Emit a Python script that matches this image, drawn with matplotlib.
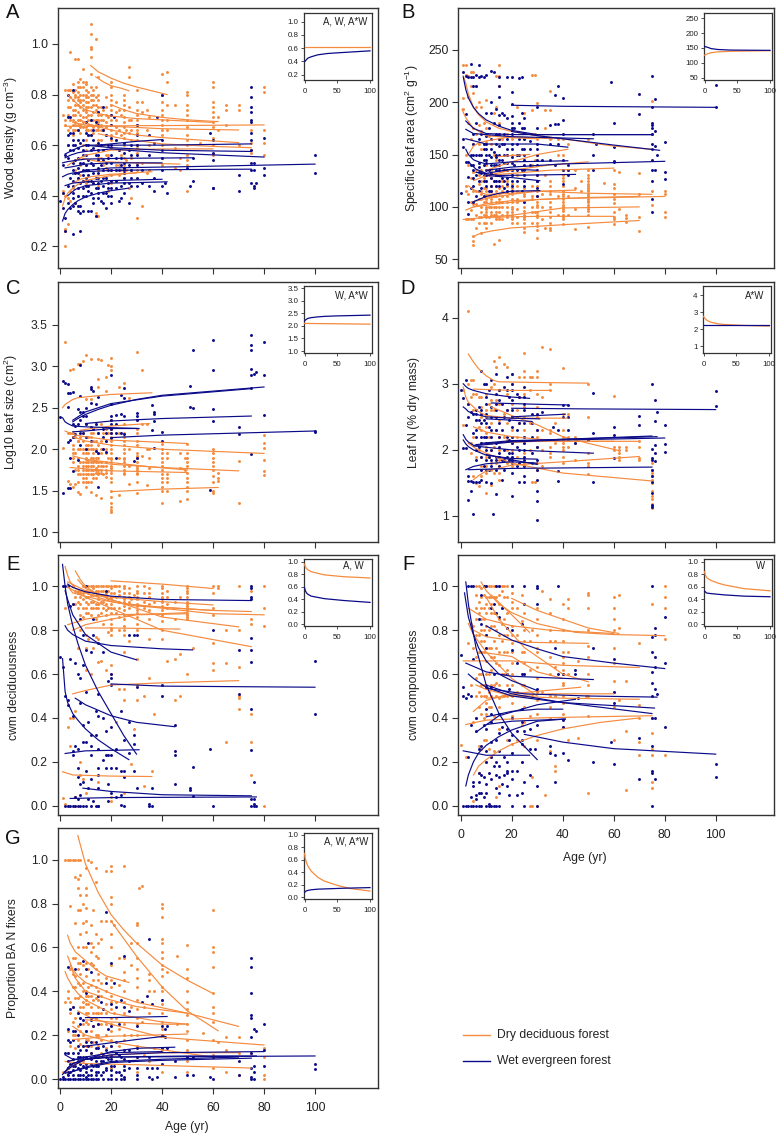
import matplotlib
matplotlib.use("Agg")
import matplotlib.pyplot as plt

plt.rcParams['font.family'] = ['Liberation Sans', 'DejaVu Sans']
W, H = 782, 1136
DRY = '#F58B3F'
WET = '#0B0B8A'
TXT = '#222222'

# ---------- scatter data: age -> values ----------
A_DRY = {1:[.42,.41,.72],2:[.27,.20,.26,.40,.82,.70,.68],3:[.82,.29,.39,.66,.72,.60,.78,.75],4:[.97,.82,.79,.75,.70,.67,.42,.38],
5:[.81,.78,.74,.68,.64,.43,.84,.72,.70,.66],6:[.94,.82,.80,.76,.72,.69,.66,.50,.37,.79,.74,.68],7:[.94,.85,.79,.76,.73,.70,.66,.47,.40,.83,.81,.78,.68],8:[.86,.83,.78,.75,.72,.68,.65,.52,.48,.80,.77,.70,.67],
9:[.90,.85,.80,.76,.71,.67,.60,.46,.83,.78,.74,.69],10:[.85,.84,.82,.79,.77,.74,.71,.69,.66,.62,.58,.52,.50,.45,.80,.75,.73,.67],11:[.81,.77,.72,.68,.64,.50,.79,.75,.70,.66],
12:[1.08,1.04,.99,.98,.95,.88,.83,.80,.75,.70,.66,.78,.72,.68,.64],13:[.80,.73,.67,.45,.82,.78,.76,.70,.65],14:[1.02,.83,.74,.66,.60,.33,.32,.79,.76,.70,.68],15:[.87,.80,.75,.72,.69,.66,.62,.55,.50,.44,.32,.78,.73,.70,.67],
16:[.75,.68,.55,.72,.70,.66,.62],17:[.74,.70,.66,.60,.52],18:[.79,.75,.67,.51,.72,.69,.64,.56,.47],19:[.71,.56,.42],20:[.85,.83,.80,.78,.76,.74,.72,.70,.68,.66,.64,.62,.59,.50,.48,.45],22:[.77,.73,.65,.52,.70,.67,.62,.50],
23:[.74,.66,.58,.52,.48],24:[.72,.64,.56,.50],25:[.80,.78,.76,.74,.71,.69,.67,.65,.63,.60,.55,.51,.47,.52,.50,.49],26:[.66,.54,.50],27:[.91,.87,.75,.70,.65,.43],28:[.55,.39,.70,.66,.62,.50],30:[.82,.77,.74,.70,.68,.65,.62,.59,.50,.31,.72,.66,.60,.57,.53],
32:[.77,.73,.53,.36],34:[.74,.66,.49],35:[.71,.60,.50],40:[.88,.80,.77,.74,.72,.70,.68,.66,.64,.60,.55,.52],42:[.89,.85,.76,.70,.66],45:[.76,.59,.51],47:[.55,.50],
50:[.81,.80,.76,.74,.72,.70,.67,.64,.62,.60,.56,.54,.52,.42],55:[.61],60:[.85,.83,.77,.75,.73,.71,.69,.67,.63,.60,.56],62:[.71,.66],65:[.76,.74,.68],70:[.76,.74,.60],
75:[.66,.61,.58,.57],80:[.83,.81,.66,.61,.56]}
A_WET = {0:[.38],1:[.52,.41,.35],2:[.56,.31,.26],3:[.80,.71,.64,.60,.55,.44,.37],4:[.71,.65,.58,.47,.35],5:[.82,.65,.62,.58,.53,.46,.39,.36,.25,.60,.50,.44,.41],6:[.60,.54,.49,.37],
7:[.66,.59,.51,.47,.36,.34,.62,.55,.49,.43,.40],8:[.61,.53,.45,.36,.33,.26],9:[.62,.58,.53,.48,.43,.34,.56,.50,.46,.40],10:[.69,.65,.60,.56,.52,.50,.47,.44,.40],11:[.64,.54,.48,.42,.34,.60,.50,.46,.44],12:[.70,.64,.58,.53,.46,.41,.34],
13:[.66,.59,.49,.62,.52,.45,.39,.37],14:[.69,.56,.47,.43,.32],15:[.73,.68,.61,.58,.54,.49,.45,.41,.56,.51,.47,.43,.39],16:[.60,.52,.46,.38],17:[.75,.66,.50,.44,.58,.54,.47,.41,.37],18:[.64,.53,.47,.35,.41],19:[.60,.55,.50,.45,.43,.40],
20:[.72,.68,.63,.60,.56,.53,.50,.46,.43,.40,.37],21:[.71],22:[.62,.55,.50,.46,.43],23:[.58,.50,.38],24:[.55,.52,.44,.39],25:[.61,.57,.53,.49,.45,.41,.51,.50,.47],27:[.58,.52,.45,.37],28:[.60,.56,.50,.47,.44],30:[.68,.64,.60,.56,.52,.47,.44],
32:[.50,.45],35:[.64,.56,.44],37:[.61,.47,.42],38:[.71],40:[.80,.62,.58,.55,.50,.44],41:[.45],42:[.41],50:[.51],51:[.44],52:[.46,.55],59:[.65],60:[.62,.57,.54,.43,.43],
70:[.48,.42],75:[.83,.79,.75,.73,.70,.69,.65,.62,.58,.53,.50,.45],76:[.53,.50,.44,.43],77:[.45],80:[.63,.51,.48],100:[.56,.49]}

B_DRY = {1:[204,193,235],2:[235,226,150,120,115,88],3:[225,205,180,140,112,88],4:[229,215,165,128,105,88,97],5:[229,209,175,160,133,115,103,88,72,64,67],
6:[215,195,170,135,115,103,92,80],7:[200,178,160,130,122,108,90,85],8:[195,172,155,135,112,100,90,75,125,115,108,95],9:[180,160,128,118,105,92,85],10:[202,175,162,140,130,118,110,105,98,92,85,80,125,115,108,100,95,90],
11:[168,130,110,100,90],12:[160,135,120,110,105,95,85,128,115,108,100,92],13:[190,150,125,110,100,92,65],14:[225,195,145,120,105,92,90,130,115,110,100,95,88],15:[235,225,215,180,165,130,118,105,90,88,68,125,112,108,100,95],16:[165,135,110,92,125,120,115,105,100,88],
18:[170,150,125,115,105,95,90,135,120,110,100,92],20:[175,165,150,135,122,115,108,100,95,90,85,130,118,112,105,98,92,88],22:[195,150,120,108,90,130,115,105,98,85],25:[190,175,165,145,130,118,110,100,92,85,80,76,125,112,105,96,90,88],28:[226,192,170,110,100,140,120,108,95,85],
29:[226,170,145,95],30:[199,165,150,125,115,105,100,95,90,82,78,70,130,120,110,102,92,85],32:[112,100,88],33:[192,175,130,80],35:[211,192,165,120,112,100,90,80,78,125,115,105,95,85],38:[165,150,110,92],40:[165,150,135,130,125,120,115,110,105,100,96,92,84,128,112,108,102,98,90,88],
42:[160,135,110,92],45:[135,118,98,79],47:[125,115],50:[165,135,130,125,120,118,115,112,110,108,105,102,98,92,81,128,122,116,110,106,100,96],56:[123],60:[135,122,118,112,108,104,95,90,88,84],62:[133,98],65:[92,89,86],
70:[132,112,90,77],75:[201,170,115,102],80:[115,112,95,90]}
B_WET = {0:[113],1:[229,165,157],2:[225,143,189],3:[224,143,129,105,93],4:[236,224,150,140,118],5:[224,215,170,140,128,105,160,150,135,120],6:[226,215,180,150,130,110],7:[235,224,165,142,133,115,150,138,125],8:[225,170,150,132,118],
9:[224,160,145,130,110,155,140,125],10:[226,190,168,150,142,130,120,160,155,145,135,125],11:[175,150,135,115],12:[230,200,190,165,148,132,120,155,140,128,115],13:[229,180,152,140,125],14:[193,170,148,135,125,160,150,140,130,120],15:[224,215,205,188,178,165,150,140,125,170,158,145,135,120],
16:[190,160,145,128],17:[188,170,142,125,160,150,135,118],18:[224,185,150,135,115,165,155,142,128,122],20:[224,210,198,187,170,160,148,135,125,115,180,175,155,142,130,120],21:[175,140],22:[160,150,135,125],23:[223,180,165,150],24:[224,190,175,155,135,115],25:[185,175,165,155,145,135,125,105,150,140,130,120],
27:[163,155,140],30:[195,175,160,145,135,125,118,110,155,150,140,130,125],32:[145],35:[178,160,145],37:[179,207,140],38:[215,179,160],40:[204,183,170,145,135,122],42:[140,135,130],52:[170,150,135],53:[160],59:[219],60:[180,157,144,143],
70:[208,189],75:[225,195,180,178,175,170,160,155,145,135,125,108,95],76:[203,172,158,135],77:[150],80:[162,133,127],100:[195,216]}

C_DRY = {2:[3.29],1:[2.02],3:[2.2,1.62],4:[2.96,2.2,1.58],5:[2.97,2.2,2.0,1.9,1.55,2.15,2.05,1.95,1.85],6:[2.15,1.95,1.75,1.58],7:[3.03,2.1,1.9,1.75,1.48,2.1,2.0,1.9,1.8,1.7,1.6],8:[3.03,2.15,2.0,1.85,1.7,1.46],9:[3.06,2.2,2.0,1.85,1.65,2.1,1.95,1.8,1.75,1.7,1.6],
10:[3.14,2.6,2.3,2.15,2.05,1.95,1.85,1.75,1.65,2.0,1.9,1.8,1.7,1.6,1.55],11:[2.15,2.0,1.85,1.7,2.05,1.95,1.8,1.75,1.6],12:[3.09,2.6,2.2,2.05,1.9,1.8,1.7,1.48,2.15,2.0,1.85,1.75,1.6],13:[2.2,1.95,1.85,1.75,2.1,2.0,1.9,1.8,1.7,1.65],14:[2.3,2.1,1.9,1.78,1.65,1.45,2.0,1.85,1.75,1.72],15:[3.09,2.85,2.75,2.2,2.05,1.9,1.8,1.7,1.95,1.85,1.75,1.72],
16:[3.08,2.3,2.0,1.8,1.72,1.41,2.1,1.95,1.85,1.75],17:[2.2,2.0,1.8,1.7],18:[2.87,2.7,2.25,2.1,1.85,1.75,1.66,2.0,1.95,1.8,1.72],19:[3.02,2.2,1.9],20:[3.1,3.0,2.95,2.35,2.25,2.15,2.05,1.95,1.88,1.8,1.75,1.65,1.5,1.42,1.35,1.3,1.27,1.24,2.2,2.1,2.0,1.9,1.85,1.78,1.72,1.6],
23:[2.75,2.2,1.9,1.45],25:[2.8,2.3,2.2,2.1,2.05,1.95,1.88,1.8,1.7,2.15,2.0,1.9,1.85,1.75,1.72],27:[2.62,2.0,1.8,1.58],30:[3.17,2.35,2.2,2.05,1.92,1.85,1.78,1.72,1.61,1.47,2.25,2.1,1.95,1.9,1.8,1.75,1.7],32:[2.96,2.3,1.92],34:[2.3,2.0,1.57],35:[2.0,1.9,1.77],
40:[2.06,2.0,1.95,1.9,1.85,1.8,1.75,1.7,1.65,1.6,1.55,1.5,1.35],42:[1.95,1.9,1.7,1.65,1.6,1.5],47:[1.95,1.78,1.38],49:[1.9,1.75],50:[2.06,1.95,1.9,1.85,1.8,1.72,1.65,1.6,1.55,1.5,1.4],
60:[2.0,1.95,1.9,1.85,1.8,1.75,1.68,1.6,1.5,1.47],62:[1.72,1.65,1.62],70:[1.86,1.35],80:[2.17,2.07,2.02,1.87,1.74,1.69]}
C_WET = {0:[2.39],1:[2.82,1.47],2:[2.8],3:[2.79,2.68,2.09,1.53,2.51],4:[2.68,2.11,1.9,1.53],5:[2.69,2.3,2.15,1.74],6:[2.28,2.18],7:[2.48,2.3,1.87],8:[3.02,2.64,2.45,2.35,2.2,2.05],
9:[2.45,2.4,2.2],10:[2.5,2.4,2.3,2.15,2.0],12:[2.75,2.72,2.56,2.27,2.1],13:[2.7,2.25],14:[2.55,2.3,1.98],15:[2.63,2.2,1.95,1.54],17:[2.25,2.15,2.0],18:[2.2,2.1,1.97],
20:[2.89,2.55,2.4,2.35,2.3,2.25,2.2,2.13],22:[2.41,2.3,2.19,1.9],24:[2.65,2.42,2.2],25:[2.74,2.62,2.4,2.18],29:[1.86],30:[2.44,2.4,2.35,1.89],36:[2.53,2.23],37:[2.45,2.43,2.34,2.02],40:[2.21,2.1],
51:[2.76,2.51],52:[2.5,3.19],59:[1.51],60:[3.32,2.95,2.48,2.34],70:[2.27,2.18],75:[3.38,3.25,3.2,2.97,2.9,2.74,1.94],76:[2.91],77:[2.93],80:[3.29,2.89,2.41],100:[2.22,2.21]}

D_DRY = {1:[2.9,2.38],3:[4.1,3.0,2.7],4:[3.05,2.8,2.1,1.95],5:[3.05,2.85,2.6,2.2,1.6],6:[2.85,2.45,1.9,1.5],7:[2.8,2.35,2.0,1.45],8:[2.8,2.5,2.3,1.6,2.65,2.1,1.9,1.75],10:[3.0,2.85,2.6,2.25,2.05,1.75,1.35,2.5,2.35,2.2,1.9,1.65],
11:[2.7,2.2,1.9],12:[2.95,2.4,2.1,1.8,1.47,2.75,2.6,2.0,1.7],13:[3.35,3.0,2.6,2.05,1.65],14:[3.25,2.75,2.3,1.8],15:[3.4,2.9,2.45,2.0,1.75,1.55,2.7,2.2,1.85,1.65],17:[3.3,2.55,2.2,1.85],18:[3.25,2.85,2.15,2.6,2.4,2.0,1.8],20:[3.15,3.0,2.7,2.3,2.0,1.75,2.5,2.2,2.1,1.9],
22:[2.6,2.2,1.9],23:[3.1,2.8,2.4,1.8],25:[3.47,3.2,3.1,2.85,2.2,1.75,2.65,2.5,2.3,2.1,1.95,1.8],27:[3.1,2.9,2.4,2.0],28:[3.1,1.52],29:[1.52],30:[3.2,3.1,2.85,2.3,2.05,2.65,2.5,2.2,1.8,1.7],32:[3.56,2.8,2.3,2.0,1.75],35:[3.52,3.0,2.9,2.3,1.9,2.25,2.05,1.95],37:[2.4,2.1],40:[3.24,2.55,2.3,2.2,2.05,1.9,2.15,2.1,2.0,1.8],
42:[2.55,2.2,2.15,2.05],45:[2.2,2.1,1.85],50:[3.0,2.5,1.95,1.8,1.75,1.63],60:[2.82,2.05,2.0],62:[2.05,2.0,1.95,1.9,1.85],65:[2.05,2.0],70:[2.13,2.05,1.88,1.85],
75:[1.8,1.7,1.65,1.6,1.55,1.5,1.38,1.3,1.25,1.18,1.15,1.12]}
D_WET = {0:[2.9],1:[2.78,2.03],2:[3.06,2.38,2.03],3:[1.24,2.7,2.5,1.6,1.53],4:[2.58,1.53,1.38],5:[2.55,2.25,1.03,1.52],6:[2.6,2.45,2.2,1.52,2.55,2.3,2.0,1.85],7:[2.65,2.45,2.05,1.52],8:[3.2,2.55,2.2,1.9,1.55,2.6,2.4,2.1,1.7],9:[3.0,2.45,2.2,1.75],
10:[3.0,2.55,2.4,2.0,1.85,1.52,2.8,2.7,2.2,2.1,1.7],11:[2.9,2.35,1.9,1.7],12:[3.05,2.5,2.3,1.85,1.5,2.65,2.2,2.0,1.75],12.5:[1.03],14:[3.15,2.85,2.5,2.3,1.9,1.33,2.7,2.6,2.1,1.85,1.7],15:[2.75,2.4,1.95,1.75,2.9,2.2,2.05,1.9],16:[2.7,2.3,1.85,1.55],17:[2.95,2.5,2.0,1.85,1.7],18:[3.1,2.9,2.6,2.2,1.9],19:[2.8,2.45,2.15,1.95,1.85],
20:[3.15,3.0,2.75,2.6,2.35,2.1,1.95,1.8,1.65,1.31,2.9,2.5,2.2,1.9,1.85],22:[2.85,2.5,2.3,2.05,1.75],23:[2.8,2.4,2.0,1.8,1.52],25:[2.95,2.8,2.6,2.2,1.85,1.6,1.52,2.7,2.4,2.1,2.0,1.9,1.75],28:[2.55,2.2,2.4,1.95,1.8],30:[2.55,2.3,2.05,1.85,1.7,1.55,1.38,1.22,.94],32:[2.57],36:[2.35],38:[2.3,1.68,1.53],
40:[2.68,2.5],42:[2.68,2.5,2.3],45:[2.1],50:[2.15],52:[2.86,2.26,1.52],60:[2.35,2.22,1.87],70:[2.51,2.37],75:[3.0,2.02,1.88,1.85,1.7,1.6,1.52,1.35,1.17,1.13],76:[2.75,2.44,2.07,1.95,1.83],77:[2.57],80:[2.38,2.09,1.97],100:[2.89,2.67]}

E_DRY = {1:[.035],2:[.9,.01],3:[.0,.36],4:[.4,.27],5:[1.0,.92,.4],6:[.95,.43,.0,.04,.98,.92],7:[.98,.9,.72,.97,.93],8:[.95,.8,.2,.14,.98,.97,.92,.87],9:[.97,.86,.12,1.0,.94,.9],10:[1.0,.95,.9,.78,.72,.62,.06,.98,.93,.88],11:[.97,.88,.76,1.0,.95,.92],12:[1.0,.93,.6,.98,.96,.9,.87],13:[.99,.9,.72,1.0,.96,.93],
14:[1.0,.92,.77,.98,.96,.9,.85],15:[1.0,.96,.9,.76,.655,.11,.98,.94,.92,.87],16:[.98,.88,.66,1.0,.96,.93],17:[1.0,.93,.83,.98,.96,.9],18:[.97,.87,.62,1.0,.95,.92,.89],19:[1.0,.9,.79,.98,.94],20:[1.0,.97,.94,.9,.85,.8,.78,.64,.6,.04,.02,.99,.95,.92,.88,.83,.81],21:[1.0,.97,.9],22:[1.0,.95,.88,.38],23:[1.0,.96,.9,.53,.98,.93,.86,.8],
25:[1.0,.97,.94,.91,.87,.82,.78,.7,.53,.48,.06,.99,.95,.93,.89,.85,.8],27:[.99,.95,.9,.75,.97,.93,.87],28:[.94,.19],29:[.96,.35],30:[1.0,.97,.94,.91,.88,.83,.8,.67,.55,.48,.98,.95,.92,.89,.86],33:[1.0,.93,.5,.09,.97,.9],35:[.99,.95,.85,.76,.58,.97,.92,.89],37:[.93,.42],36:[.16],
40:[1.0,.97,.94,.91,.87,.84,.8,.76,.99,.95,.93,.89],42:[.95,.9,.66,.98,.92],45:[.93,.85,.67,.48],47:[.95,.69,.5],50:[1.0,.98,.95,.92,.9,.87,.85,.6,.99,.97,.93,.91,.89,.88,.86],52:[.72],60:[1.0,.97,.9,.87,.74,.65,.62],62:[1.0,.99],65:[.8,.65,.29],70:[1.0,.8,.63,.5,.49,.44],
75:[.98,.85,.83,.42,.29,.14],80:[1.0,.9,.82,.0]}
E_WET = {0:[.68],1:[.63,1.0],2:[1.0,.5,.0],3:[1.0,.48,.0,.46],4:[.67,.91,.0],5:[.92,.41,.25,.23,.0],6:[.65,.27,.04,.0],7:[.6,.26,.17,.13,.03,.0],8:[.85,.58,.47,.1,.05,.0],9:[.78,.64,.37,.29,.11,.0],10:[1.0,.71,.52,.29,.16,.0],
11:[.38,.08,.03],12:[.7,.32,.27,.12,.0,.23],13:[.85,.78,.02],14:[.43,.32,.0],15:[.74,.51,.41,.26,.17,.14,.08,.0,.0],17:[.7,.4,.21],18:[.98,.34,.17,.23],19:[.57,.23,.1,.02],20:[.6,.58,.55,.36,.23,.17,.06],
22:[.26,.17,.04],24:[.43,.16,.05,.005],25:[.3,.16,.13,.0],27:[.78,.38,.24],29:[.78,.32,.28,.16],30:[.78,.54,.08],35:[.01,.0],36:[.0,.08],40:[.5,.55],45:[.37,.25,.23,.1],51:[.08,.07],52:[.175,.045],59:[.26],60:[.8,.0],
70:[.71,.51],75:[1.0,.99,.95,.94,.765,.71,.655,.44,.255,.03,.0],76:[.11,.03,.01,.0],77:[.0],100:[.66,.42]}

F_DRY = {0:[.275],2:[.22],3:[.74],4:[.83,.55],5:[.82,.72,.38,.02],6:[1.0,.9,.68,.5,.4,.96,.85,.78,.58],7:[1.0,.93,.78,.6,.45,.27,.15,.88,.7,.52],8:[.99,.9,.8,.7,.55,.42,.26,.95,.85,.75,.6,.5],9:[.96,.85,.75,.5,.3,1.0,.9,.8,.7,.55,.4],10:[1.0,.95,.88,.78,.66,.55,.47,.3,.2,.92,.82,.72,.6,.5,.42],
11:[.9,.8,.52,.26,1.0,.95,.72,.6,.45],12:[1.0,.95,.88,.72,.62,.5,.22,.92,.82,.68,.55,.45],13:[.95,.82,.68,.41,.25,1.0,.88,.75,.55],14:[1.0,.88,.72,.56,.04,.95,.8,.65,.5],15:[1.0,.92,.78,.64,.49,.35,.09,.96,.85,.7,.55,.45],16:[.98,.83,.5,1.0,.9,.75,.6],17:[1.0,.85,.7,.95,.78,.6,.5],18:[.95,.78,.62,.5,.3,1.0,.88,.7,.55],
20:[1.0,.97,.93,.82,.74,.65,.55,.47,.41,.28,.24,.9,.78,.7,.6,.5],22:[.9,.78,.52,.3],24:[.96,.84,.7,.55,.37,.2],25:[.88,.8,.65,.5,.38,.27,.75,.7,.6,.55,.45],27:[.75,.62,.41,.0],28:[.8,.5,.0,.13],30:[.9,.78,.72,.63,.52,.42,.3,.0,.85,.7,.58,.48],32:[.98,.52],33:[.05],
35:[.94,.88,.8,.68,.5,.4,.25,.75,.6,.45],37:[.75,.63,.5,.18,.16],40:[.92,.85,.8,.75,.68,.62,.56,.5,.42,.36,.7,.65,.6,.55,.47],42:[.94,.9,.7,.6,.3],46:[.66,.31],49:[.5],50:[.97,.96,.9,.8,.73,.68,.6,.55,.5,.41,.06],60:[.95,.9,.85,.8,.72,.65,.57,.52,.45,.3],
62:[.96,.81,.48],65:[.57,.34,.07],70:[.74,.46,.4,.29,.23],75:[.92,.4,.33,.26,.23,.11,.08],80:[1.0,.95,.9,.76,.23]}
F_WET = {0:[.685],1:[.54,.5,0.0],2:[.49,.0],3:[1.0,.22,.51,.0],4:[1.0,.5,.37,.04,.0],5:[1.0,.67,.11,.09,.0],6:[.4,.34,.05,.0,.03],7:[.85,.26,.15,.11,.06,.0],8:[.96,.83,.27,.06,.14,.0],9:[1.0,.37,.13,.04],10:[1.0,.78,.72,.54,.44,.25,.06,.0,.35,.2,.1],
11:[.15,.01,.0],12:[.9,.54,.38,.29,.12,.0,.42,.22],13:[.92,.6,.18,.0],14:[1.0,.88,.3,.08,.0,.2,.14],15:[1.0,.86,.42,.25,.13,.06,.0,.33,.18],16:[.9,.36,.1],17:[.22,.14],18:[.81,.6,.35,.16,.15,.2,.09],19:[.53,.3,.05],20:[1.0,.8,.71,.4,.32,.16,.0,.24,.12],
22:[.65,.34,.16,.05],24:[.83,.6,.44,.38,.28,.06,.2,.3],25:[1.0,.92,.6,.34,.11,.0],27:[.35,.26,.14],29:[.26],30:[1.0,.99,.92,.53,.37,.09,.0],35:[.27,.24],37:[.72,.23,.11],38:[1.0,.6],40:[.6,.39,.36,.24],42:[.21],45:[.62,.6],46:[.49],52:[.72,.2],59:[.29],60:[.67,.52,.47,.19],
70:[.31,.12],75:[1.0,.77,.7,.61,.56,.5,.4,.27,.16,.15,.0],76:[.81,.78,.68,.63,.53,.4,.12],77:[.51],80:[.86,.65,.36],100:[.19,.13]}

G_DRY = {1:[.03],2:[1.0,.35],3:[1.0,.4,.37,.22,.12],4:[1.0,.79,.3,.15,.5,.35],5:[1.0,.55,.26,.07,.48,.42,.33,.2],6:[1.0,.92,.71,.47,.37,.2,.14,.55,.42,.28],7:[1.0,.91,.87,.77,.6,.5,.37,.18,.53,.44,.3,.24],8:[1.0,.93,.84,.77,.66,.53,.43,.28,.16,.48,.38,.33,.22,.1],
9:[.8,.71,.52,.44,.33,.25,.15,.6,.4,.35,.2,.08],10:[.96,.87,.84,.78,.72,.67,.6,.53,.47,.4,.34,.3,.22,.15,.38,.36,.26,.18,.1],11:[1.0,.5,.38,.25,.42,.34,.3,.18],12:[.99,.7,.62,.53,.43,.33,.22,.12,.58,.38,.28,.15],13:[.77,.6,.45,.3,.17,.52,.36,.24],14:[.96,.9,.66,.56,.37,.28,.5,.42,.3,.2],15:[.62,.55,.45,.36,.3,.2,.48,.4,.33,.25,.15],
16:[.72,.64,.44,.25,.12,.38,.3,.18],18:[.95,.72,.46,.34,.25,.14,.4,.3,.2],20:[.97,.95,.83,.8,.72,.66,.6,.52,.45,.38,.32,.25,.18,.1,.05,.42,.35,.28,.22,.15],21:[.3,.7],22:[.35,.28],23:[.55,.43,.23,.15],25:[.97,.55,.49,.4,.3,.18,.04,.45,.35,.25,.2],28:[.62,.52,.33,.2],
30:[.71,.7,.62,.5,.42,.36,.28,.2,.1,.03,.55,.46,.32,.25,.15],31:[.87],32:[.88,.26],33:[.33,.11],35:[.48,.45,.4,.3,.08],37:[.4,.14],40:[.8,.78,.74,.64,.62,.58,.52,.47,.42,.36,.3,.2,.13,.03,.55,.5,.4,.34,.26,.23],42:[.49],46:[.56,.25],
50:[.61,.5,.46,.4,.35,.32,.29,.25,.22,.18,.13,.08,.03],56:[.21],60:[.77,.6,.58,.51,.39,.33,.3,.26,.18,.11,.05],62:[.17],65:[.19,.13,.03],70:[.19,.12,.02],75:[.12],80:[.14,.1,.02,.0]}
G_WET = {0:[.0],1:[.0,.01],2:[.0,.03,.12],3:[.51,.23,.18,.05,.0,.02,.08,.12,.03],4:[.0,.17,.07,.03,.32],5:[.33,.22,.12,.04,.0,.18,.09,.06,.02],6:[.5,.22,.06,.0],7:[.3,.15,.1,.05,.0,.2,.12,.08,.02],8:[.28,.25,.13,.07,.0,.1,.04,.02],9:[.54,.27,.1,.02,.0,.15,.06],10:[.5,.39,.22,.13,.07,.03,.0,.17,.1,.05,.01],
11:[.62,.15,.02,.0],12:[.49,.27,.17,.09,.04,.0,.12,.07,.02],13:[.24,.06,.0],14:[.17,.1,.03,.0,.14,.08,.06,.02],15:[.38,.25,.14,.06,.0,.1,.03],16:[.35,.08,.02],17:[.32,.11,.0,.15,.08,.03],18:[.76,.44,.13,.05,.1,.04],19:[.23,.09,.0],20:[.53,.34,.24,.15,.06,.0,.11,.09,.04,.02],
21:[.44,.06],22:[.33,.17,.0,.12,.08,.03],23:[.25,.11,.03],24:[.36,.1,.02,.0],25:[.56,.33,.04,.01,.0,.13,.09,.06],27:[.31,.08,.13,.05],30:[.24,.14,.05,.0,.1,.02],32:[.35],34:[.38,.05],35:[.64,.1,.01],36:[.34,.05,.0],38:[.05,.01],
40:[.36,.24,.2,.14,.07],41:[.23,.19],42:[.24,.14],45:[.08,.01],50:[.1,.02],52:[.1,.02],59:[.01],60:[.1,.0],70:[.08,.02],75:[.55,.51,.39,.29,.28,.19,.12,.05,.01,.0],76:[.23,.06,.03,.0],77:[.22],80:[.25,.13,.06],100:[.07,.045]}

# ---------- fitted curves: (ages, values) ----------
A_DRY_LINES = [([12,15,20,25,30,36,42],[.915,.89,.865,.845,.83,.815,.80]),([14,17,20,24,27],[.87,.85,.835,.825,.815]),
([20,25,30,40,50,62],[.76,.74,.725,.71,.70,.693]),([3,5,7,10,15,20,30,40,60],[.80,.78,.76,.74,.725,.715,.705,.70,.69]),([2,10,30,50,80],[.675,.675,.677,.678,.68]),
([5,10,20,40,70],[.69,.68,.675,.665,.66]),([8,12,20,30,40,55,70],[.70,.68,.66,.64,.63,.62,.61]),([15,25,40,60,75],[.645,.625,.605,.595,.59]),
([8,15,30,47],[.55,.535,.53,.525]),([1,2,3,5,7,10,15,20,28,36],[.36,.39,.41,.43,.445,.46,.47,.48,.49,.495]),([5,8,12,20,30],[.45,.465,.475,.485,.49]),
([3,6,10,20,40,60],[.52,.54,.56,.58,.585,.585])]
A_WET_LINES = [([1,2,3,5,7,10,15,20,27],[.30,.33,.345,.365,.38,.395,.41,.42,.43]),([3,6,10,20,30,42],[.40,.425,.44,.45,.452,.455]),([2,5,10,20,40],[.44,.45,.455,.46,.465]),
([1,3,5,10,20,40,75],[.475,.485,.49,.495,.50,.503,.505]),([5,10,20,50,100],[.485,.50,.51,.515,.525]),([1,3,10,25,52],[.53,.535,.545,.548,.55]),
([2,4,7,10,20,40,80],[.55,.56,.57,.575,.585,.57,.553]),([2,3,5,7,10,20,40,75],[.565,.57,.58,.59,.60,.60,.60,.605]),([10,20,40,75],[.60,.59,.58,.575]),([15,20,30,40],[.60,.605,.615,.622]),
([2,5,10,20,40],[.51,.515,.525,.53,.53])]
A_INSET = ([0,100],[.625,.625]),([0,1,3,5,10,20,35,50,75,100],[.40,.405,.43,.45,.47,.50,.52,.53,.545,.56])

B_DRY_LINES = [([1,2,3,5,7,10,15,20,30,40,60,75],[225,218,208,195,188,181,175,172,168,165,158,155]),([0.5,2,5,10,20,30],[193,185,175,168,166,165]),([3,5,7,10,20,36],[150,158,161,163,167,165]),
([15,20,27],[148,149,150]),([10,15,20,30,42],[135,139,143,150,155]),([5,10,20,35,50],[125,130,135,140,143]),([10,20,35,60],[130,132,135,137]),([3,6,10,20,30,50,75],[120,115,112,113,115,113,112]),
([5,10,20,30,45],[105,108,112,115,116]),([2,5,10,20,40,80],[97,100,103,106,108,110]),([5,15,30,50,70],[100,103,107,109,110]),([8,20,40,70],[90,92,99,100]),([1,10,30,60],[88,90,91,91]),
([5,6,8,12,20,40,70],[71,73,75,77,80,83,87])]
B_WET_LINES = [([1,2,3,5,7,10,15,20,30,40,75],[224,212,204,195,189,183,177,173,169,169,169]),([20,40,100],[197,196,195]),([2,5,10,20,75],[182,175,170,169,169]),([2,5,20,52],[174,170,167,165]),
([2,10,30,42],[165,160,160,157]),([2,3,5,7,10,20,42],[155,150,145,143,141,143,144]),([10,20,40,80],[135,138,141,143.5]),([3,6,10,20,30],[143,136,132,136,135]),([6,15,45],[133,130,131]),([10,20,31],[130,128,125]),
([5,7,10,15,20,31],[105,107,110,113,115,115.5]),([20,30,40,60,78],[172,168,165,159,154])]
B_INSET = ([0,3,5,10,20,40,100],[126,129,131,134,137,139,141]),([0,2,5,10,20,40,100],[155,154,152,148,145,143,142])

C_DRY_LINES = [([1,2,3,5,7,10,20,36],[2.5,2.54,2.56,2.6,2.62,2.63,2.66,2.68]),([8,20,35],[2.23,2.28,2.31]),([2,5,10,20,35,50],[2.22,2.18,2.15,2.11,2.09,2.07]),([5,10,20,40,80],[2.15,2.1,2.05,2.0,1.95]),
([5,10,20,35,50],[1.92,1.88,1.84,1.79,1.75]),([4,20,50],[1.78,1.74,1.72]),([10,20,40,70],[1.87,1.82,1.78,1.74]),([20,40,62],[1.49,1.52,1.54])]
C_WET_LINES = [([5,7,10,15,20,30,40,60,80],[2.33,2.37,2.42,2.48,2.53,2.6,2.65,2.7,2.75]),([5,10,20,40,75],[2.35,2.45,2.55,2.64,2.73]),([10,20,40,75],[2.31,2.34,2.37,2.40]),
([1,2,3,5,10,20,31],[2.38,2.33,2.31,2.28,2.27,2.26,2.25]),([5,10,20,30],[2.21,2.22,2.25,2.25]),([20,40,100],[2.14,2.17,2.22])]
C_INSET = ([0,100],[2.1,2.07]),([0,1,3,5,10,20,30,50,100],[2.2,2.23,2.27,2.3,2.33,2.36,2.38,2.4,2.43])

D_DRY_LINES = [([3,5,7,10,13,15,30,50],[3.45,3.33,3.23,3.12,3.05,3.03,3.02,3.01]),([5,20,35],[2.92,2.9,2.9]),([1,2,3,5,7,10,20,42],[2.95,2.8,2.72,2.65,2.58,2.52,2.48,2.48]),([5,10,20,40,70],[2.35,2.27,2.2,2.13,2.13]),
([12,20,30,40,50,62],[2.65,2.52,2.38,2.2,2.1,1.99]),([3,6,10,20,40,75],[2.1,2.02,1.95,1.8,1.65,1.53]),([5,7,10,20,40,70],[1.55,1.61,1.68,1.77,1.82,1.9]),([10,30,60],[2.1,2.13,2.13])]
D_WET_LINES = [([1,2,3,5,10,20,27],[3.0,2.96,2.93,2.9,2.85,2.8,2.78]),([12,30,42],[2.71,2.69,2.68]),([20,50,100],[2.63,2.62,2.61]),([1,2,3,5,10,20,31],[2.65,2.62,2.58,2.55,2.5,2.48,2.47]),([10,20,28],[2.47,2.45,2.43]),([20,30,41],[2.5,2.52,2.54]),
([1,2,3,5,7,10,20,40,80],[2.23,2.16,2.12,2.07,2.07,2.08,2.12,2.15,2.18]),([8,20,40,77],[2.1,2.14,2.16,2.2]),([6,20,40,75],[2.08,2.13,2.16,2.21]),([5,20,52],[2.06,2.0,1.95]),([1,2,3,5,10,20,30],[2.15,2.09,2.05,2.0,1.92,1.87,1.86]),
([10,20,30],[1.93,1.85,1.78]),([2,5,10,20,30],[1.7,1.75,1.79,1.82,1.8]),([3,20,75],[1.7,1.72,1.74])]
D_INSET = ([0,1,3,5,10,20,30,60,100],[2.75,2.68,2.6,2.52,2.42,2.33,2.28,2.22,2.18]),([0,100],[2.25,2.25])

E_DRY_LINES = [([2,3,4,6,10,20,40,60,80],[1.09,1.05,1.02,.99,.97,.93,.90,.875,.87]),([6,8,10,15,25,40,60],[1.07,1.03,1.0,.96,.92,.905,.89]),([20,40,60],[1.025,1.01,.99]),([3,10,20,40,60],[1.02,.98,.95,.93,.915]),
([7,10,20,40,70],[1.03,.99,.94,.86,.815]),([4,10,20,40,75],[.99,.95,.9,.8,.725]),([3,10,20,40,50],[.825,.85,.87,.875,.88]),([5,10,20,30,50],[.8,.825,.85,.87,.875]),([10,20,47],[.81,.81,.805]),
([5,10,20,40,70],[.51,.525,.55,.56,.57]),([1,5,20,36],[.155,.14,.135,.133]),([3,5,15,30,60,75],[1.0,.97,.94,.91,.89,.885])]
E_WET_LINES = [([1,2,3,5,7,10,15,20,25,30],[1.1,1.0,.92,.82,.74,.64,.52,.42,.32,.235]),([1,2,3,5,7,10,15,20,27],[.67,.52,.47,.42,.39,.35,.3,.26,.21]),([6,10,20,30,45],[.49,.46,.41,.38,.36]),([2,3,5,10,20,40,52],[.82,.8,.78,.75,.73,.715,.71]),
([3,5,10,20,40,75],[1.01,.995,.975,.955,.94,.935]),([2,3,5,10,20,30],[.98,.94,.87,.78,.7,.665]),([20,40,100],[.555,.545,.54]),([2,10,31],[.238,.25,.255]),([9,20,40,75],[.08,.065,.05,.045]),([4,20,77],[.033,.037,.04])]
E_INSET = ([0,1,3,5,10,30,60,100],[.96,.92,.89,.87,.84,.79,.76,.74]),([0,1,3,5,10,30,60,100],[.58,.54,.5,.48,.45,.41,.38,.35])

F_DRY_LINES = [([20,30,40,50,62],[.945,.89,.85,.81,.785]),([8,10,15,20,30,45,60,80],[1.02,.98,.92,.88,.83,.79,.78,.775]),([3,10,20,35,60],[.9,.85,.82,.8,.785]),([12,20,27],[.96,.87,.79]),([10,15,25,40,50],[.95,.85,.72,.6,.565]),
([5,10,25,50],[.8,.77,.745,.74]),([3,5,10,20,30],[.83,.78,.7,.58,.5]),([1,20,40,70],[.66,.66,.64,.63]),([6,10,20,40,70],[.55,.53,.5,.49,.485]),([5,10,20,47],[.43,.48,.51,.54]),([10,20,35,60],[.49,.5,.51,.51]),
([2,10,30,50,75],[.37,.39,.40,.405,.41]),([5,7,10,15,20,30,40,55,70],[.14,.18,.21,.25,.28,.32,.35,.38,.4]),([8,20,30,40],[.7,.68,.61,.58])]
F_WET_LINES = [([2,3,4,6,10,15,20,25,30],[1.02,.92,.85,.72,.55,.42,.33,.27,.21]),([1.5,3,5,7,10,15,20,30],[.97,.86,.78,.72,.66,.6,.57,.525]),([10,20,30,40,60,80],[.82,.755,.715,.68,.65,.625]),([2,10,20,52],[.65,.61,.59,.575]),([3,5,10,20,40,76],[.6,.58,.54,.5,.47,.445]),
([10,20,40,75],[.55,.51,.47,.42]),([10,25,50,77],[.535,.51,.5,.495]),([2,3,5,7,10,15,20,30,41],[.09,.14,.2,.24,.275,.315,.345,.385,.395]),([6,15,30,45],[.335,.41,.46,.485]),([10,20,30,40],[.405,.43,.44,.44]),([10,20,41],[.37,.385,.395]),
([1,10,27],[.25,.23,.23]),([25,40,60,100],[.325,.29,.26,.235])]
F_INSET = ([0,1,3,5,10,20,30,60,100],[.84,.79,.75,.73,.7,.66,.63,.57,.535]),([0,1,3,10,30,60,100],[.53,.52,.5,.49,.47,.45,.44])

G_DRY_LINES = [([7,10,15,20,25,30,40,50,60],[1.11,.98,.85,.75,.68,.62,.52,.45,.39]),([20,25,30,40,50,62],[.72,.64,.56,.42,.31,.22]),([3,4,6,10,14,18,27],[.655,.62,.58,.54,.5,.47,.44]),([3,5,7,10,20,30,50,70],[.56,.5,.47,.44,.39,.35,.30,.24]),
([2,3,5,7,10,20,40,50],[.49,.46,.42,.39,.36,.3,.26,.25]),([4,6,10,20,30,50],[.52,.46,.40,.36,.33,.3]),([7,12,20,40,80],[.31,.28,.25,.19,.155]),([10,20,40,50],[.27,.26,.25,.25]),([5,10,20,30,60],[.24,.2,.17,.15,.1]),([5,20,50],[.18,.195,.205]),
([2,5,10,20,40,70],[.03,.06,.09,.11,.12,.12]),([2,10,30,75],[.08,.07,.065,.05])]
G_WET_LINES = [([10,20,42],[.28,.28,.285]),([10,20,30,41],[.15,.165,.18,.195]),([2,5,10,20,100],[.11,.09,.09,.10,.105]),([3,5,10,20,40,80],[.05,.07,.09,.11,.12,.125]),([1,2,5,10,20,30,45],[.02,.035,.06,.09,.125,.14,.145]),
([2,3,5,10,20,50,77],[.03,.05,.07,.09,.10,.105,.105]),([3,5,10,20,40,75],[.02,.035,.05,.075,.085,.095]),([4,10,20,40,70],[.03,.055,.08,.09,.1]),([3,10,20,40],[.08,.10,.12,.125])]
G_INSET = ([0,1,3,5,10,20,30,50,70,100],[.7,.62,.55,.5,.42,.32,.26,.19,.14,.1]),([0,2,5,10,20,60,100],[.08,.1,.11,.12,.13,.145,.155])

# ---------- labels ----------
Y_TICKS = {'A':[.2,.4,.6,.8,1.0],'B':[50,100,150,200,250],'C':[1,1.5,2,2.5,3,3.5],'D':[1,2,3,4],'E':[0,.2,.4,.6,.8,1.0],'F':[0,.2,.4,.6,.8,1.0],'G':[0,.2,.4,.6,.8,1.0]}
Y_FMT = {'A':'%.1f','B':'%d','C':'%.1f','D':'%d','E':'%.1f','F':'%.1f','G':'%.1f'}
Y_LABELS = {'A':r'Wood density (g cm$^{-3}$)','B':r'Specific leaf area (cm$^2$ g$^{-1}$)','C':r'Log10 leaf size (cm$^2$)','D':'Leaf N (% dry mass)',
            'E':'cwm deciduousness','F':'cwm compoundness','G':'Proportion BA N fixers'}
INSET_TEXT = {'A':'A, W, A*W','B':'','C':'W, A*W','D':'A*W','E':'A, W','F':'W','G':'A, W, A*W'}
X_TICKS = [0,20,40,60,80,100]
INSET_X = [0,50,100]
plt.rcParams['mathtext.fontset'] = 'custom'
plt.rcParams['mathtext.rm'] = 'Liberation Sans'
plt.rcParams['mathtext.default'] = 'regular'

# ---------- layout in reference pixels ----------
L_COL = (57.7, 378.0, 60.0, 315.0)   # box left, right, x=0 px, x=100 px
R_COL = (458.3, 774.0, 460.7, 715.7)
PANELS = {
 'A':dict(col=L_COL,top=8.3,bot=268,y=(.2,246.3,1.0,44.0),ins=(304.3,372.3,12.7,80,304.6,370,.2,74.7,1.0,21.7),let=(13,13),yl=(11,138),it=(367,22)),
 'B':dict(col=R_COL,top=8.3,bot=268,y=(50,259.3,250,49.7),ins=(704.3,772.3,12.7,80,704.6,770,50,77.7,250,18.3),let=(408,13),yl=(412,138),it=(767,22)),
 'C':dict(col=L_COL,top=281.7,bot=541.7,y=(1,532.3,3.5,324.7),ins=(304.3,372.3,285.7,353.3,304.6,370,1,351,3.5,288.3),let=(13,288),yl=(11,412),it=(368,295)),
 'D':dict(col=R_COL,top=281.7,bot=541.7,y=(1,516,4,317.7),ins=(703.3,771,285.7,353.3,703.6,769,1,346.3,4,295),let=(408,288),yl=(414,412),it=(764,296)),
 'E':dict(col=L_COL,top=555,bot=815,y=(0,805.7,1,586.3),ins=(304.3,372.3,559.3,626.3,304.6,370,0,624.3,1,561.7),let=(13,565),yl=(14,685),it=(364,566)),
 'F':dict(col=R_COL,top=555,bot=815,y=(0,805.7,1,586.3),ins=(704.3,772.3,559.3,626.3,704.6,770,0,624.3,1,561.7),let=(408,565),yl=(414,685),it=(765,566)),
 'G':dict(col=L_COL,top=828.3,bot=1087.7,y=(0,1079,1,859.7),ins=(304.3,372.3,832.7,899.3,304.6,370,0,897.3,1,834.7),let=(13,839),yl=(13,958),it=(368,841)),
}
DATA = {'A':(A_DRY,A_WET,A_DRY_LINES,A_WET_LINES,A_INSET),'B':(B_DRY,B_WET,B_DRY_LINES,B_WET_LINES,B_INSET),'C':(C_DRY,C_WET,C_DRY_LINES,C_WET_LINES,C_INSET),
        'D':(D_DRY,D_WET,D_DRY_LINES,D_WET_LINES,D_INSET),'E':(E_DRY,E_WET,E_DRY_LINES,E_WET_LINES,E_INSET),'F':(F_DRY,F_WET,F_DRY_LINES,F_WET_LINES,F_INSET),
        'G':(G_DRY,G_WET,G_DRY_LINES,G_WET_LINES,G_INSET)}

fig = plt.figure(figsize=(W/100, H/100), dpi=100, facecolor='white')

def box(l, r, t, b):
    return fig.add_axes([l/W, 1-b/H, (r-l)/W, (b-t)/H])

def lims(l, r, t, b, x0, x100, v0, p0, v1, p1):
    sx = 100/(x100-x0)
    sy = (v1-v0)/(p0-p1)
    return (l-x0)*sx, (r-x0)*sx, v0-(b-p0)*sy, v0+(p0-t)*sy

def style(ax, lw):
    for s in ax.spines.values():
        s.set_linewidth(lw)
        s.set_color('#333333')

def flat(d):
    xs, ys = [], []
    for age, vals in d.items():
        xs += [age]*len(vals)
        ys += vals
    return xs, ys

for key, p in PANELS.items():
    dry, wet, dl, wl, ins = DATA[key]
    l, r, x0, x100 = p['col']
    ax = box(l, r, p['top'], p['bot'])
    v0, p0, v1, p1 = p['y']
    xa, xb, ya, yb = lims(l, r, p['top'], p['bot'], x0, x100, v0, p0, v1, p1)
    ax.set_xlim(xa, xb)
    ax.set_ylim(ya, yb)
    style(ax, 1.0)
    xs, ys = flat(dry)
    ax.scatter(xs, ys, s=4.5, color=DRY, linewidths=0, zorder=2)
    xs, ys = flat(wet)
    ax.scatter(xs, ys, s=4.5, color=WET, linewidths=0, zorder=2)
    for a, v in dl:
        ax.plot(a, v, color=DRY, lw=0.85, zorder=3)
    for a, v in wl:
        ax.plot(a, v, color=WET, lw=0.85, zorder=4)
    ax.set_xticks(X_TICKS)
    ax.set_yticks(Y_TICKS[key])
    ax.set_yticklabels([Y_FMT[key] % t for t in Y_TICKS[key]])
    has_x = key in 'FG'
    ax.tick_params(axis='x', length=4.3, width=0.8, labelsize=8.7, pad=6, labelbottom=has_x, labelcolor=TXT, color='#333333')
    ax.tick_params(axis='y', length=4.3, width=0.8, labelsize=8.7, pad=2.8, labelcolor=TXT, color='#333333')

    fig.text(p['let'][0]/W, 1-p['let'][1]/H, key, fontsize=14.5, ha='center', va='center', color='#111111')
    fig.text(p['yl'][0]/W, 1-p['yl'][1]/H, Y_LABELS[key], fontsize=8.7, rotation=90, ha='center', va='center', color=TXT)

    il, ir, it_, ib, ix0, ix100, iv0, ip0, iv1, ip1 = p['ins']
    iax = box(il, ir, it_, ib)
    xa, xb, ya, yb = lims(il, ir, it_, ib, ix0, ix100, iv0, ip0, iv1, ip1)
    iax.set_xlim(xa, xb)
    iax.set_ylim(ya, yb)
    style(iax, 0.9)
    iax.plot(ins[0][0], ins[0][1], color=DRY, lw=0.9, zorder=3)
    iax.plot(ins[1][0], ins[1][1], color=WET, lw=0.9, zorder=4)
    iax.set_xticks(INSET_X)
    iax.set_yticks(Y_TICKS[key])
    iax.set_yticklabels([Y_FMT[key] % t for t in Y_TICKS[key]])
    iax.tick_params(axis='both', length=2.2, width=0.6, labelsize=5.7, pad=1.8, labelcolor=TXT, color='#333333')
    iax.tick_params(axis='x', pad=3.5)
    if INSET_TEXT[key]:
        fig.text(p['it'][0]/W, 1-p['it'][1]/H, INSET_TEXT[key], fontsize=6.9, ha='right', va='center', color=TXT)

fig.text(585/W, 1-858/H, 'Age (yr)', fontsize=8.7, ha='center', va='center', color=TXT)
fig.text(187/W, 1-1127/H, 'Age (yr)', fontsize=8.7, ha='center', va='center', color=TXT)

# legend
leg = fig.add_axes([0, 0, 1, 1], facecolor='none')
leg.set_xlim(0, W); leg.set_ylim(H, 0); leg.axis('off')
leg.plot([463, 490], [1035, 1035], color=DRY, lw=1.0)
leg.plot([463, 490], [1061, 1061], color=WET, lw=1.0)
leg.text(497, 1035, 'Dry deciduous forest', fontsize=8.7, va='center', color=TXT)
leg.text(497, 1061, 'Wet evergreen forest', fontsize=8.7, va='center', color=TXT)

fig.savefig('out.png', dpi=100)
